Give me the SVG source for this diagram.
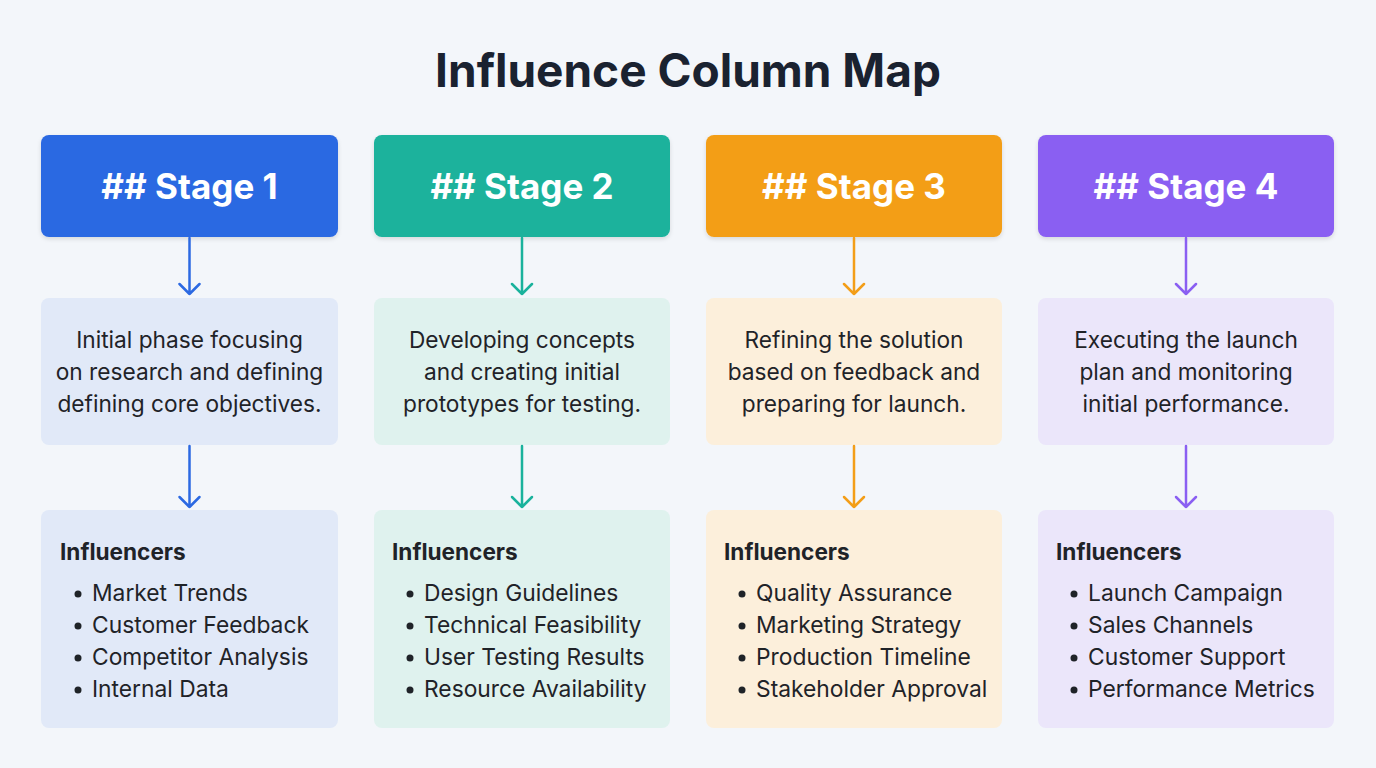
<svg xmlns="http://www.w3.org/2000/svg" width="1376" height="768" viewBox="0 0 1376 768">
<defs>
<style>
.title{font-family:Inter,"Liberation Sans",sans-serif;font-weight:700;font-size:46px;fill:#1a2230;text-anchor:middle}
.hd{font-family:Inter,"Liberation Sans",sans-serif;font-weight:700;font-size:35px;fill:#ffffff;text-anchor:middle}
.desc{font-family:Inter,"Liberation Sans",sans-serif;font-size:22.7px;fill:#1f2328;text-anchor:middle}
.inf{font-family:Inter,"Liberation Sans",sans-serif;font-weight:700;font-size:22.6px;fill:#1f2328}
.li{font-family:Inter,"Liberation Sans",sans-serif;font-size:22.8px;fill:#1f2328}
.conn{fill:none;stroke-width:2.5;stroke-linecap:round;stroke-linejoin:round}
</style>
<filter id="sh" x="-10%" y="-10%" width="120%" height="130%">
<feDropShadow dx="0" dy="2" stdDeviation="2" flood-color="#000" flood-opacity="0.12"/>
</filter>
</defs>
<rect width="1376" height="768" fill="#f3f6fa"/>
<text class="title" x="688" y="87">Influence Column Map</text>

<g id="stage1">
<rect x="41" y="135" width="297" height="102" rx="8" fill="#2c69e2" filter="url(#sh)"/>
<text class="hd" x="189.5" y="199">## Stage 1</text>
</g>
<g id="desc1">
<rect x="41" y="298" width="297" height="147" rx="8" fill="#e1e9f8"/>
<text class="desc" x="189.5" y="348">Initial phase focusing</text>
<text class="desc" x="189.5" y="380">on research and defining</text>
<text class="desc" x="189.5" y="412">defining core objectives.</text>
</g>
<g id="inf1">
<rect x="41" y="510" width="297" height="218" rx="8" fill="#e1e9f8"/>
<text class="inf" x="60" y="560">Influencers</text>
<circle cx="78" cy="594" r="3.5" fill="#1f2328"/><text class="li" x="92" y="601">Market Trends</text>
<circle cx="78" cy="626" r="3.5" fill="#1f2328"/><text class="li" x="92" y="633">Customer Feedback</text>
<circle cx="78" cy="658" r="3.5" fill="#1f2328"/><text class="li" x="92" y="665">Competitor Analysis</text>
<circle cx="78" cy="690" r="3.5" fill="#1f2328"/><text class="li" x="92" y="697">Internal Data</text>
</g>

<g id="stage2">
<rect x="374" y="135" width="296" height="102" rx="8" fill="#1ab29c" filter="url(#sh)"/>
<text class="hd" x="522" y="199">## Stage 2</text>
</g>
<g id="desc2">
<rect x="374" y="298" width="296" height="147" rx="8" fill="#dff2ee"/>
<text class="desc" x="522" y="348">Developing concepts</text>
<text class="desc" x="522" y="380">and creating initial</text>
<text class="desc" x="522" y="412">prototypes for testing.</text>
</g>
<g id="inf2">
<rect x="374" y="510" width="296" height="218" rx="8" fill="#dff2ee"/>
<text class="inf" x="392" y="560">Influencers</text>
<circle cx="410" cy="594" r="3.5" fill="#1f2328"/><text class="li" x="424" y="601">Design Guidelines</text>
<circle cx="410" cy="626" r="3.5" fill="#1f2328"/><text class="li" x="424" y="633">Technical Feasibility</text>
<circle cx="410" cy="658" r="3.5" fill="#1f2328"/><text class="li" x="424" y="665">User Testing Results</text>
<circle cx="410" cy="690" r="3.5" fill="#1f2328"/><text class="li" x="424" y="697">Resource Availability</text>
</g>

<g id="stage3">
<rect x="706" y="135" width="296" height="102" rx="8" fill="#f39e18" filter="url(#sh)"/>
<text class="hd" x="854" y="199">## Stage 3</text>
</g>
<g id="desc3">
<rect x="706" y="298" width="296" height="147" rx="8" fill="#fcefdb"/>
<text class="desc" x="854" y="348">Refining the solution</text>
<text class="desc" x="854" y="380">based on feedback and</text>
<text class="desc" x="854" y="412">preparing for launch.</text>
</g>
<g id="inf3">
<rect x="706" y="510" width="296" height="218" rx="8" fill="#fcefdb"/>
<text class="inf" x="724" y="560">Influencers</text>
<circle cx="742" cy="594" r="3.5" fill="#1f2328"/><text class="li" x="756" y="601">Quality Assurance</text>
<circle cx="742" cy="626" r="3.5" fill="#1f2328"/><text class="li" x="756" y="633">Marketing Strategy</text>
<circle cx="742" cy="658" r="3.5" fill="#1f2328"/><text class="li" x="756" y="665">Production Timeline</text>
<circle cx="742" cy="690" r="3.5" fill="#1f2328"/><text class="li" x="756" y="697">Stakeholder Approval</text>
</g>

<g id="stage4">
<rect x="1038" y="135" width="296" height="102" rx="8" fill="#8a5ff2" filter="url(#sh)"/>
<text class="hd" x="1186" y="199">## Stage 4</text>
</g>
<g id="desc4">
<rect x="1038" y="298" width="296" height="147" rx="8" fill="#ebe6fa"/>
<text class="desc" x="1186" y="348">Executing the launch</text>
<text class="desc" x="1186" y="380">plan and monitoring</text>
<text class="desc" x="1186" y="412">initial performance.</text>
</g>
<g id="inf4">
<rect x="1038" y="510" width="296" height="218" rx="8" fill="#ebe6fa"/>
<text class="inf" x="1056" y="560">Influencers</text>
<circle cx="1074" cy="594" r="3.5" fill="#1f2328"/><text class="li" x="1088" y="601">Launch Campaign</text>
<circle cx="1074" cy="626" r="3.5" fill="#1f2328"/><text class="li" x="1088" y="633">Sales Channels</text>
<circle cx="1074" cy="658" r="3.5" fill="#1f2328"/><text class="li" x="1088" y="665">Customer Support</text>
<circle cx="1074" cy="690" r="3.5" fill="#1f2328"/><text class="li" x="1088" y="697">Performance Metrics</text>
</g>

<g id="connectors">
<path class="conn" stroke="#2c69e2" d="M189.5 238V294M179.5 284L189.5 294L199.5 284"/>
<path class="conn" stroke="#2c69e2" d="M189.5 446V507M179.5 497L189.5 507L199.5 497"/>
<path class="conn" stroke="#1ab29c" d="M522 238V294M512 284L522 294L532 284"/>
<path class="conn" stroke="#1ab29c" d="M522 446V507M512 497L522 507L532 497"/>
<path class="conn" stroke="#f39e18" d="M854 238V294M844 284L854 294L864 284"/>
<path class="conn" stroke="#f39e18" d="M854 446V507M844 497L854 507L864 497"/>
<path class="conn" stroke="#8a5ff2" d="M1186 238V294M1176 284L1186 294L1196 284"/>
<path class="conn" stroke="#8a5ff2" d="M1186 446V507M1176 497L1186 507L1196 497"/>
</g>
</svg>
